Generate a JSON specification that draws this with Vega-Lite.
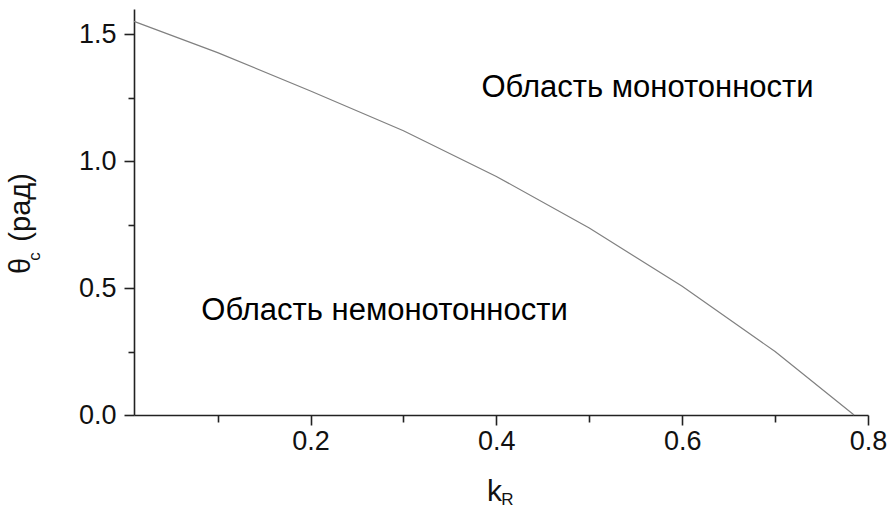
{
  "$schema": "https://vega.github.io/schema/vega-lite/v6.json",
  "width": 734,
  "height": 406,
  "autosize": {"type": "none"},
  "padding": {"left": 134, "top": 9, "right": 22, "bottom": 95},
  "background": "white",
  "config": {"view": {"stroke": null}, "font": "Liberation Sans"},
  "datasets": {
    "curve": [
      {"kR": 0.01, "theta": 1.551},
      {"kR": 0.1, "theta": 1.428},
      {"kR": 0.2, "theta": 1.277},
      {"kR": 0.3, "theta": 1.12},
      {"kR": 0.4, "theta": 0.94},
      {"kR": 0.5, "theta": 0.737},
      {"kR": 0.6, "theta": 0.507},
      {"kR": 0.7, "theta": 0.25},
      {"kR": 0.785, "theta": 0.0}
    ],
    "regions": [
      {"kR": 0.384, "theta": 1.254, "label": "Область монотонности"},
      {"kR": 0.0824, "theta": 0.376, "label": "Область немонотонности"}
    ]
  },
  "layer": [
    {
      "data": {"name": "curve"},
      "mark": {"type": "line", "color": "#808080", "strokeWidth": 1.2},
      "encoding": {
        "x": {
          "field": "kR", "type": "quantitative",
          "scale": {"domain": [0.01, 0.8], "nice": false, "zero": false},
          "axis": {
            "values": [0.1, 0.2, 0.3, 0.4, 0.5, 0.6, 0.7, 0.8],
            "labelExpr": "round(datum.value*10)%2==0 ? format(datum.value,'.1f') : ''",
            "tickSize": {"condition": {"test": "round(datum.value*10)%2==0", "value": 10}, "value": 7},
            "grid": false,
            "domainColor": "#222222", "tickColor": "#222222",
            "domainWidth": 1.6, "tickWidth": 1.6,
            "labelFontSize": 27, "labelColor": "#111111", "labelPadding": 3,
            "labelOverlap": false, "labelFlush": false,
            "title": "k", "titleFontSize": 30, "titleFontWeight": "normal", "titleColor": "#111111",
            "titleX": 360, "titleY": 85, "titleBaseline": "alphabetic", "titleAlign": "center"
          }
        },
        "y": {
          "field": "theta", "type": "quantitative",
          "scale": {"domain": [0, 1.6], "nice": false},
          "axis": {
            "values": [0, 0.25, 0.5, 0.75, 1.0, 1.25, 1.5],
            "labelExpr": "round(datum.value*4)%2==0 ? format(datum.value,'.1f') : ''",
            "tickSize": {"condition": {"test": "round(datum.value*4)%2==0", "value": 10}, "value": 6},
            "grid": false,
            "domainColor": "#222222", "tickColor": "#222222",
            "domainWidth": 1.6, "tickWidth": 1.6,
            "labelFontSize": 27, "labelColor": "#111111", "labelPadding": 8,
            "labelOverlap": false, "labelFlush": false,
            "title": "θ\u00a0 (рад)", "titleFontSize": 29, "titleFontWeight": "normal", "titleColor": "#111111",
            "titleAngle": 270, "titleX": -105, "titleY": 214, "titleBaseline": "alphabetic", "titleAlign": "center"
          }
        }
      }
    },
    {
      "data": {"name": "regions"},
      "mark": {"type": "text", "align": "left", "baseline": "alphabetic", "fontSize": 31, "color": "#000000"},
      "encoding": {
        "x": {"field": "kR", "type": "quantitative"},
        "y": {"field": "theta", "type": "quantitative"},
        "text": {"field": "label"}
      }
    },
    {
      "data": {"values": [{"sub": "R"}]},
      "mark": {"type": "text", "align": "center", "baseline": "alphabetic", "fontSize": 17, "color": "#111111"},
      "encoding": {
        "x": {"datum": 0.412},
        "y": {"datum": -0.355},
        "text": {"field": "sub"}
      }
    },
    {
      "data": {"values": [{"sub": "c"}]},
      "mark": {"type": "text", "align": "center", "baseline": "middle", "angle": 270, "fontSize": 17, "color": "#111111"},
      "encoding": {
        "x": {"datum": -0.0965},
        "y": {"datum": 0.625},
        "text": {"field": "sub"}
      }
    }
  ]
}
